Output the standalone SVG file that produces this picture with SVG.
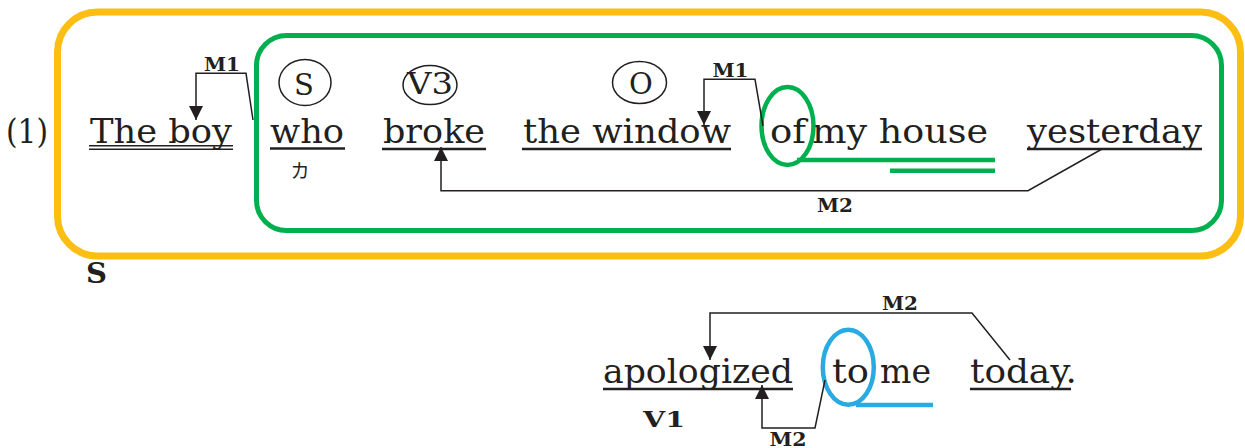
<svg xmlns="http://www.w3.org/2000/svg" width="1245" height="448" viewBox="0 0 1245 448">
<style>
.w{font-family:"DejaVu Serif","Liberation Serif",serif;font-size:34px;fill:#231f20}
.c{font-family:"DejaVu Serif","Liberation Serif",serif;font-size:29px;fill:#231f20;text-anchor:middle}
.lb{font-family:"DejaVu Serif","Liberation Serif",serif;font-weight:bold;font-size:19px;fill:#231f20;text-anchor:middle}
.bd{font-family:"DejaVu Serif","Liberation Serif",serif;font-weight:bold;fill:#231f20}
.ul{stroke:#231f20;stroke-width:2.6;fill:none}
.ul2{stroke:#231f20;stroke-width:1.6;fill:none}
.circ{fill:none;stroke:#231f20;stroke-width:1.5}
.con{fill:none;stroke:#231f20;stroke-width:1.5}
.frameO{fill:none;stroke:#fdbe14;stroke-width:7}
.frameG{fill:none;stroke:#00b04f;stroke-width:5}
.gm{fill:none;stroke:#00b04f;stroke-width:4.5}
.bm{fill:none;stroke:#29abe2;stroke-width:4.5}
</style>
<defs>
<marker id="ah" viewBox="0 0 10 10" refX="10" refY="5" markerWidth="14" markerHeight="14" markerUnits="userSpaceOnUse" orient="auto">
<path d="M0,0 L10,5 L0,10 z" fill="#231f20"/>
</marker>
</defs>

<g id="frame-outer"><rect class="frameO" x="57.5" y="12" width="1183" height="244" rx="40"/></g>
<g id="frame-inner"><rect class="frameG" x="256.5" y="35.5" width="965" height="195" rx="30"/></g>

<g id="num"><text class="w" x="6" y="143" textLength="42" lengthAdjust="spacingAndGlyphs">(1)</text></g>

<g id="the-boy">
<text class="w" x="90" y="143" textLength="142" lengthAdjust="spacingAndGlyphs">The boy</text>
<line class="ul2" x1="89" y1="145.7" x2="233" y2="145.7"/>
<line class="ul2" x1="89" y1="149.3" x2="233" y2="149.3"/>
<text class="bd" x="86" y="283" font-size="28" textLength="21" lengthAdjust="spacingAndGlyphs">S</text>
</g>

<g id="who">
<ellipse class="circ" cx="305" cy="82.5" rx="26" ry="23"/>
<text class="c" x="304" y="95">S</text>
<text class="w" x="270" y="143" textLength="74" lengthAdjust="spacingAndGlyphs">who</text>
<line class="ul" x1="270" y1="148.5" x2="345" y2="148.5"/>
<text x="300" y="178" style="font-family:'Noto Sans CJK JP',sans-serif;font-size:19px;fill:#231f20;text-anchor:middle">カ</text>
</g>

<g id="broke">
<ellipse class="circ" cx="430" cy="85" rx="27" ry="19.5"/>
<text class="c" x="430" y="93.5" textLength="46" lengthAdjust="spacingAndGlyphs">V3</text>
<text class="w" x="383" y="143" textLength="102" lengthAdjust="spacingAndGlyphs">broke</text>
<line class="ul" x1="382" y1="149" x2="486" y2="149"/>
</g>

<g id="the-window">
<ellipse class="circ" cx="639.5" cy="82.5" rx="27" ry="21"/>
<text class="c" x="641" y="94">O</text>
<text class="w" x="523" y="143" textLength="208" lengthAdjust="spacingAndGlyphs">the window</text>
<line class="ul" x1="522" y1="149" x2="731" y2="149"/>
</g>

<g id="of-my-house">
<text class="w" x="770" y="143" textLength="36" lengthAdjust="spacingAndGlyphs">of</text>
<text class="w" x="812" y="143" textLength="176" lengthAdjust="spacingAndGlyphs">my house</text>
<ellipse class="gm" cx="787.5" cy="126" rx="26" ry="39"/>
<line class="gm" x1="797" y1="160" x2="995" y2="160"/>
<line class="gm" x1="890" y1="170.7" x2="995" y2="170.7"/>
</g>

<g id="yesterday">
<text class="w" x="1027" y="143" textLength="175" lengthAdjust="spacingAndGlyphs">yesterday</text>
<line class="ul" x1="1027" y1="149" x2="1202" y2="149"/>
</g>

<g id="apologized">
<text class="w" x="603" y="383" textLength="190" lengthAdjust="spacingAndGlyphs">apologized</text>
<line class="ul" x1="603" y1="389" x2="793" y2="389"/>
<text class="bd" x="643" y="427" font-size="22" textLength="42" lengthAdjust="spacingAndGlyphs">V1</text>
</g>

<g id="to-me">
<text class="w" x="832" y="383" textLength="37" lengthAdjust="spacingAndGlyphs">to</text>
<text class="w" x="880" y="383" textLength="51" lengthAdjust="spacingAndGlyphs">me</text>
<ellipse class="bm" cx="848.3" cy="367.3" rx="25.5" ry="37.5"/>
<line class="bm" x1="856" y1="405" x2="933" y2="405"/>
</g>

<g id="today">
<text class="w" x="970" y="383" textLength="107" lengthAdjust="spacingAndGlyphs">today.</text>
<line class="ul" x1="970" y1="389" x2="1071" y2="389"/>
</g>

<g id="connectors">
<path class="con" d="M253,120 L246,73.3 L196,73.3 L196,120" marker-end="url(#ah)"/>
<text class="lb" x="222" y="71" textLength="36" lengthAdjust="spacingAndGlyphs">M1</text>
<path class="con" d="M763,126 L755,79.3 L704,79.3 L704,125" marker-end="url(#ah)"/>
<text class="lb" x="730.5" y="77" textLength="36" lengthAdjust="spacingAndGlyphs">M1</text>
<path class="con" d="M1102,149 L1028,190.7 L441,190.7 L441,147" marker-end="url(#ah)"/>
<text class="lb" x="835" y="212" textLength="36" lengthAdjust="spacingAndGlyphs">M2</text>
<path class="con" d="M1010,360 L972,313 L710,313 L710,360" marker-end="url(#ah)"/>
<text class="lb" x="900" y="310" textLength="36" lengthAdjust="spacingAndGlyphs">M2</text>
<path class="con" d="M825,380 L815,428 L762,428 L762,385" marker-end="url(#ah)"/>
<text class="lb" x="788" y="446" textLength="37" lengthAdjust="spacingAndGlyphs">M2</text>
</g>
</svg>
